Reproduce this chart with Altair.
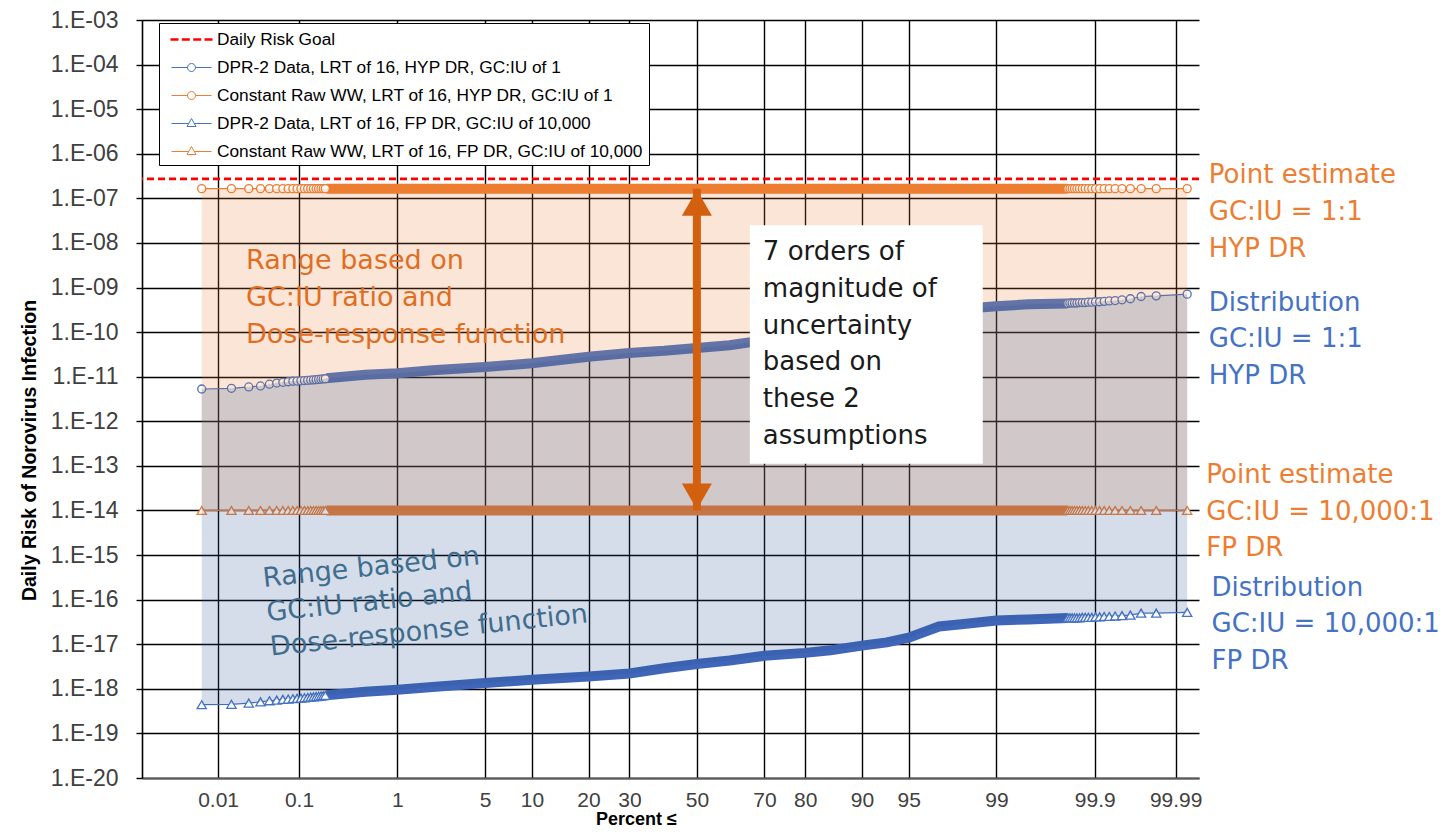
import altair as alt
import pandas as pd
from statistics import NormalDist

_nd = NormalDist()


def probit(pct):
    """Normal-probability position (z) of a cumulative percent."""
    return _nd.inv_cdf(pct / 100.0)


# ---------------- data ----------------
SERIES = [
    "Daily Risk Goal",
    "DPR-2 Data, LRT of 16, HYP DR, GC:IU of 1",
    "Constant Raw WW, LRT of 16, HYP DR, GC:IU of 1",
    "DPR-2 Data, LRT of 16, FP DR, GC:IU of 10,000",
    "Constant Raw WW, LRT of 16, FP DR, GC:IU of 10,000",
]
SERIES_COLORS = ["#FF0000", "#4472C4", "#ED7D31", "#4472C4", "#ED7D31"]
SERIES_WIDTHS = [2.6, 1.0, 1.0, 1.0, 1.0]

RISK_GOAL = 2.74e-7
CONST_HYP = 1.65e-7
CONST_FP = 1.0e-14

# cumulative percent of the individually visible markers (tails) and of the dense band
TAIL_LO_PCT = [0.006, 0.015, 0.025, 0.035, 0.045, 0.055, 0.065, 0.075, 0.085, 0.095,
               0.105, 0.115, 0.125, 0.135, 0.145, 0.155, 0.165, 0.175, 0.185, 0.195]
BAND_PCT = [0.2, 0.5, 1, 2, 5, 10, 20, 30, 40, 50, 60, 70, 80, 85, 90, 93, 95, 97,
            98, 99, 99.5, 99.8]
TAIL_HI_PCT = [99.993, 99.982, 99.972, 99.962, 99.952, 99.942, 99.932, 99.922, 99.912,
               99.902, 99.892, 99.882, 99.872, 99.862, 99.852, 99.842, 99.832, 99.822,
               99.812, 99.802]

HYP_LO = [5.3e-12, 5.5e-12, 5.9e-12, 6.2e-12, 6.8e-12, 7.2e-12, 7.5e-12, 7.7e-12, 7.9e-12,
          8.0e-12, 8.1e-12, 8.2e-12, 8.3e-12, 8.4e-12, 8.5e-12, 8.6e-12, 8.7e-12, 8.8e-12,
          8.9e-12, 9.0e-12]
HYP_BAND = [9.2e-12, 1.1e-11, 1.2e-11, 1.4e-11, 1.65e-11, 2.0e-11, 2.8e-11, 3.4e-11,
            3.8e-11, 4.4e-11, 5.1e-11, 6.6e-11, 8.0e-11, 9.0e-11, 1.1e-10, 1.4e-10,
            1.8e-10, 2.8e-10, 3.3e-10, 3.8e-10, 4.2e-10, 4.4e-10]
HYP_HI = [7.1e-10, 6.5e-10, 6.3e-10, 5.6e-10, 5.3e-10, 5.1e-10, 5.0e-10, 4.9e-10, 4.8e-10,
          4.8e-10, 4.7e-10, 4.7e-10, 4.6e-10, 4.6e-10, 4.6e-10, 4.5e-10, 4.5e-10, 4.5e-10,
          4.5e-10, 4.4e-10]

FP_LO = [4.4e-19, 4.5e-19, 4.8e-19, 5.1e-19, 5.4e-19, 5.6e-19, 5.8e-19, 5.9e-19, 6.0e-19,
         6.1e-19, 6.2e-19, 6.3e-19, 6.4e-19, 6.5e-19, 6.6e-19, 6.7e-19, 6.8e-19, 6.9e-19,
         7.0e-19, 7.1e-19]
FP_BAND = [7.2e-19, 8.6e-19, 9.5e-19, 1.1e-18, 1.35e-18, 1.6e-18, 1.9e-18, 2.2e-18,
           2.9e-18, 3.6e-18, 4.3e-18, 5.5e-18, 6.4e-18, 7.3e-18, 9.3e-18, 1.1e-17,
           1.4e-17, 2.5e-17, 2.8e-17, 3.4e-17, 3.6e-17, 3.9e-17]
FP_HI = [5.2e-17, 5.0e-17, 5.0e-17, 4.5e-17, 4.4e-17, 4.3e-17, 4.2e-17, 4.2e-17, 4.1e-17,
         4.1e-17, 4.0e-17, 4.0e-17, 4.0e-17, 4.0e-17, 3.9e-17, 3.9e-17, 3.9e-17, 3.9e-17,
         3.9e-17, 3.9e-17]

X_TICK_PCT = [0.01, 0.1, 1, 5, 10, 20, 30, 50, 70, 80, 90, 95, 99, 99.9, 99.99]
Y_TICKS = [10.0 ** -k for k in range(3, 21)]
X_DOMAIN_Z = [-4.31, 3.90]
Y_DOMAIN = [1e-20, 1e-3]

# annotation texts and where their first line sits (cumulative percent, risk value)
BOX_TEXT = "7 orders of\nmagnitude of\nuncertainty\nbased on\nthese 2\nassumptions"
RANGE_TEXT = "Range based on\nGC:IU ratio and\nDose-response function"
RIGHT_TEXTS = [
    "Point estimate\nGC:IU = 1:1\nHYP DR",
    "Distribution\nGC:IU = 1:1\nHYP DR",
    "Point estimate\nGC:IU = 10,000:1\nFP DR",
    "Distribution\nGC:IU = 10,000:1\nFP DR",
]
RIGHT_COLORS = ["#ED7D31", "#4472C4", "#ED7D31", "#4472C4"]
RIGHT_PCT = [99.9965, 99.9965, 99.9962, 99.9968]
RIGHT_VAL = [3.3e-7, 4.6e-10, 6.3e-14, 1.86e-16]

# ---------------- tables ----------------
pct_all = TAIL_LO_PCT + BAND_PCT + TAIL_HI_PCT
part_all = ["tail"] * len(TAIL_LO_PCT) + ["band"] * len(BAND_PCT) + ["tail"] * len(TAIL_HI_PCT)
dist = pd.DataFrame({
    "pct": pct_all,
    "part": part_all,
    "hyp": HYP_LO + HYP_BAND + HYP_HI,
    "fp": FP_LO + FP_BAND + FP_HI,
    "c_hyp": [CONST_HYP] * len(pct_all),
    "c_fp": [CONST_FP] * len(pct_all),
})
dist["z"] = dist["pct"].map(probit)
dist = dist.sort_values("z").reset_index(drop=True)

# ---------------- scales / axes ----------------
FONT = "Liberation Sans"
ANNO_FONT = "DejaVu Sans"

x_axis = alt.Axis(
    values=[probit(p) for p in X_TICK_PCT],
    labelExpr="toString(round(cumulativeNormal(datum.value) * 1000000) / 10000)",
    grid=True, gridColor="#000000", gridWidth=1.4,
    ticks=False, tickSize=0,
    domainColor="#595959", domainWidth=2,
    labelFont=FONT, labelFontSize=21, labelColor="#404040", labelPadding=11,
    labelOverlap=False,
    title="Percent ≤", titleFont=FONT, titleFontSize=18, titleFontWeight="bold",
    titleColor="#000000", titleX=494, titleY=50, titleBaseline="bottom", titleAlign="center",
)
y_axis = alt.Axis(
    values=Y_TICKS,
    labelExpr="'1.E-' + (round(-log(datum.value) / LN10) < 10 ? '0' : '') + round(-log(datum.value) / LN10)",
    grid=True, gridColor="#000000", gridWidth=1.4,
    ticks=True, tickColor="#000000", tickSize=6, tickWidth=1.4,
    domainColor="#000000", domainWidth=1.6,
    labelFont=FONT, labelFontSize=23, labelColor="#404040", labelPadding=18,
    labelOverlap=False,
    title="Daily Risk of Norovirus Infection", titleFont=FONT, titleFontSize=19.5,
    titleFontWeight="bold", titleColor="#000000", titleAngle=270,
    titleX=-113, titleY=430, titleBaseline="middle", titleAlign="center",
)
x_scale = alt.Scale(domain=X_DOMAIN_Z, nice=False, zero=False)
y_scale = alt.Scale(type="log", domain=Y_DOMAIN, nice=False)


def X(field="z"):
    return alt.X(f"{field}:Q", scale=x_scale, axis=x_axis)


def Y(field):
    return alt.Y(f"{field}:Q", scale=y_scale, axis=y_axis)


base = alt.Chart(dist)
layers = []

# thin connecting lines
for col, color in [("c_hyp", "#ED7D31"), ("hyp", "#4472C4"), ("c_fp", "#ED7D31"), ("fp", "#4472C4")]:
    layers.append(base.mark_line(color=color, strokeWidth=1.2).encode(x=X(), y=Y(col)))

# dense middle (thousands of overlapping markers -> thick band)
for col, color in [("c_hyp", "#ED7D31"), ("hyp", "#4472C4"), ("c_fp", "#ED7D31"), ("fp", "#3F66B8")]:
    layers.append(
        base.transform_filter("datum.part == 'band'")
        .mark_line(color=color, strokeWidth=10, strokeCap="butt")
        .encode(x=X(), y=Y(col))
    )

# individually visible hollow markers in the tails
for col, color, shape, size in [("c_hyp", "#ED7D31", "circle", 64), ("hyp", "#4472C4", "circle", 64),
                                ("c_fp", "#ED7D31", "triangle-up", 85), ("fp", "#4472C4", "triangle-up", 85)]:
    layers.append(
        base.transform_filter("datum.part == 'tail'")
        .mark_point(shape=shape, size=size, filled=True, fill="white", stroke=color,
                    strokeWidth=1.3, opacity=1)
        .encode(x=X(), y=Y(col))
    )

# shaded ranges
layers.append(base.mark_area(color="#ED7D31", opacity=0.2).encode(x=X(), y=Y("c_hyp"), y2=alt.Y2("c_fp:Q")))
layers.append(base.mark_area(color="#2F5597", opacity=0.2).encode(x=X(), y=Y("hyp"), y2=alt.Y2("fp:Q")))

# daily risk goal
goal = alt.Chart(pd.DataFrame({"v": [RISK_GOAL]})).mark_rule(
    color="#FF0000", strokeDash=[7, 4], strokeWidth=2.6
).encode(y=Y("v"))
layers.append(goal)

# double-headed arrow at the median
arrow_df = pd.DataFrame({"z": [probit(50)], "top": [CONST_HYP], "bot": [CONST_FP]})
arrow = alt.Chart(arrow_df)
layers.append(arrow.mark_rule(color="#D2600F", strokeWidth=8, strokeCap="butt").encode(
    x=X(), y=Y("top"), y2=alt.Y2("bot:Q")))
layers.append(arrow.mark_point(shape="triangle-up", size=900, filled=True, color="#D2600F",
                               opacity=1, yOffset=14).encode(x=X(), y=Y("top")))
layers.append(arrow.mark_point(shape="triangle-down", size=900, filled=True, color="#D2600F",
                               opacity=1, yOffset=-14).encode(x=X(), y=Y("bot")))

# white text box
box_df = pd.DataFrame({"z1": [probit(65.96)], "z2": [probit(98.68)], "v1": [2.48e-8], "v2": [1.11e-13]})
layers.append(alt.Chart(box_df).mark_rect(color="white", opacity=1).encode(
    x=X("z1"), x2=alt.X2("z2:Q"), y=Y("v1"), y2=alt.Y2("v2:Q")))
box_txt = pd.DataFrame({"z": [probit(69.57)], "v": [6.2e-9], "t": [BOX_TEXT]})
layers.append(alt.Chart(box_txt).mark_text(
    align="left", baseline="middle", font=ANNO_FONT, fontSize=26, lineBreak="\n",
    lineHeight=36.7, color="#1a1a1a").encode(x=X(), y=Y("v"), text="t:N"))

# range labels inside the shaded areas
rng_o = pd.DataFrame({"z": [probit(0.0231)], "v": [3.9e-9], "t": [RANGE_TEXT]})
layers.append(alt.Chart(rng_o).mark_text(
    align="left", baseline="middle", font=ANNO_FONT, fontSize=27, lineBreak="\n",
    lineHeight=36.7, color="#DF6E22").encode(x=X(), y=Y("v"), text="t:N"))
rng_b = pd.DataFrame({"z": [probit(0.0376)], "v": [2.9e-16], "t": [RANGE_TEXT]})
layers.append(alt.Chart(rng_b).mark_text(
    align="left", baseline="middle", font=ANNO_FONT, fontSize=27, lineBreak="\n",
    lineHeight=34.5, angle=354, color="#3F6D8E").encode(x=X(), y=Y("v"), text="t:N"))

# right-hand labels
right_df = pd.DataFrame({"z": [probit(p) for p in RIGHT_PCT], "v": RIGHT_VAL,
                         "t": RIGHT_TEXTS, "c": RIGHT_COLORS})
layers.append(alt.Chart(right_df).mark_text(
    align="left", baseline="middle", font=ANNO_FONT, fontSize=26, lineBreak="\n",
    lineHeight=36.7).encode(x=X(), y=Y("v"), text="t:N", color=alt.Color("c:N", scale=None)))

# legend (built from the series list; carries no marks of its own)
SYMBOL_PATHS = [
    "M-2.1,0L-1.3,0M-0.97,0L-0.17,0M0.17,0L0.97,0M1.3,0L2.1,0",
    "M-2,0L-0.4,0M0.4,0L2,0M-0.4,0A0.4,0.4,0,1,1,0.4,0A0.4,0.4,0,1,1,-0.4,0Z",
    "M-2,0L-0.4,0M0.4,0L2,0M-0.4,0A0.4,0.4,0,1,1,0.4,0A0.4,0.4,0,1,1,-0.4,0Z",
    "M-2,0L-0.28,0M0.28,0L2,0M0,-0.5L0.45,0.3L-0.45,0.3Z",
    "M-2,0L-0.28,0M0.28,0L2,0M0,-0.5L0.45,0.3L-0.45,0.3Z",
]
leg = alt.Legend(
    orient="none", legendX=17, legendY=3, title=None,
    labelFont=FONT, labelFontSize=17.3, labelColor="#000000", labelLimit=0,
    symbolSize=400, fillColor="white", strokeColor="#000000", padding=5,
    rowPadding=9, labelOffset=14, symbolOffset=16,
)
legend_layer = alt.Chart(pd.DataFrame({"series": SERIES})).transform_filter("false").mark_point(
    filled=False, opacity=1
).encode(
    color=alt.Color("series:N", scale=alt.Scale(domain=SERIES, range=SERIES_COLORS), legend=leg),
    shape=alt.Shape("series:N", scale=alt.Scale(domain=SERIES, range=SYMBOL_PATHS), legend=leg),
    strokeWidth=alt.StrokeWidth("series:N", scale=alt.Scale(type="ordinal", domain=SERIES,
                                                            range=SERIES_WIDTHS), legend=leg),
)
layers.append(legend_layer)

chart = alt.layer(*layers).properties(
    width=1057, height=758,
    autosize=alt.AutoSizeParams(type="none"),
    padding={"left": 134, "top": 12, "right": 245, "bottom": 51},
).configure_view(stroke=None)

chart.save("out.html", embed_options={"renderer": "svg", "actions": False})
